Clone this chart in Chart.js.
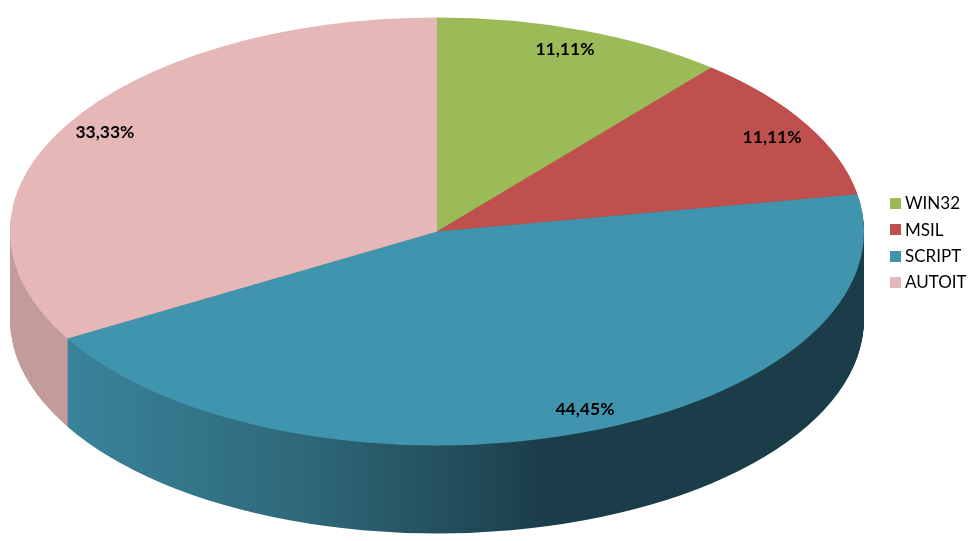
<!DOCTYPE html>
<html>
<head>
<meta charset="utf-8">
<title>Pie chart</title>
<script src="https://cdn.jsdelivr.net/npm/chart.js@4"></script>
<style>
  html, body { margin: 0; padding: 0; background: #fff; }
  canvas { display: block; }
</style>
</head>
<body>
<canvas id="pieChart" width="973" height="541"></canvas>
<script>
// Datos
const categories = ['WIN32', 'MSIL', 'SCRIPT', 'AUTOIT'];
const shares = [11.11, 11.11, 44.45, 33.33];
const shareLabels = ['11,11%', '11,11%', '44,45%', '33,33%'];

// Colores
const topColors = ['#9BBB59', '#C0504D', '#4094AE', '#E5B7B7'];
const sideColors = ['#7C9647', '#9A403E', null, '#C49C9C'];

// Aspecto de la perspectiva
const pieCenterY = 231.5;
const squash = 214 / 427;
const depth = 88;
// la porcion de atras primero, la azul tapa a las demas
const sideOrder = [0, 1, 3, 2];
const labelRadius = 0.89;
const labelNudge = [[-2, -3], [6, 1], [18, -1], [-3, -4]];

function blueSide(ctx) {
    const g = ctx.createLinearGradient(67, 0, 550, 0);
    g.addColorStop(0, '#39839B');
    g.addColorStop(0.5, '#2E6878');
    g.addColorStop(1, '#1B3C49');
    return g;
}

// Aplasta el pastel y dibuja el lateral con los mismos arcos del grafico
const perspective = {
    id: 'perspective',
    beforeDatasetsDraw(chart) {
        const ctx = chart.ctx;
        const arcs = chart.getDatasetMeta(0).data;
        const cx = arcs[0].x, cy = arcs[0].y;

        sideOrder.forEach(i => {
            const arc = arcs[i];
            const topFill = arc.options.backgroundColor;
            arc.options.backgroundColor = sideColors[i] || blueSide(ctx);
            for (let d = depth; d > 0; d--) {
                ctx.save();
                ctx.translate(cx, pieCenterY + d);
                ctx.scale(1, squash);
                ctx.translate(-cx, -cy);
                arc.draw(ctx);
                ctx.restore();
            }
            arc.options.backgroundColor = topFill;
        });

        ctx.save();
        ctx.translate(cx, pieCenterY);
        ctx.scale(1, squash);
        ctx.translate(-cx, -cy);
    },
    afterDatasetsDraw(chart) {
        chart.ctx.restore();
    }
};

// Etiquetas de porcentaje y leyenda
const annotations = {
    id: 'annotations',
    afterDraw(chart) {
        const ctx = chart.ctx;
        const arcs = chart.getDatasetMeta(0).data;

        ctx.save();
        ctx.fillStyle = '#000';
        ctx.font = 'bold 17.5px Lato';
        ctx.textAlign = 'center';
        ctx.textBaseline = 'middle';
        arcs.forEach((arc, i) => {
            const mid = (arc.startAngle + arc.endAngle) / 2;
            const r = arc.outerRadius * labelRadius;
            const x = arc.x + Math.cos(mid) * r + labelNudge[i][0];
            const y = pieCenterY + Math.sin(mid) * r * squash + labelNudge[i][1];
            ctx.fillText(shareLabels[i], x, y);
        });

        ctx.font = '17px Lato';
        ctx.textAlign = 'left';
        categories.forEach((name, i) => {
            const y = 204 + i * 26.3;
            ctx.fillStyle = topColors[i];
            ctx.fillRect(890, Math.round(y) - 6, 11, 11);
            ctx.fillStyle = '#000';
            ctx.fillText(name, 905, y);
        });
        ctx.restore();
    }
};

new Chart(document.getElementById('pieChart').getContext('2d'), {
    type: 'pie',
    data: {
        labels: categories,
        datasets: [{
            data: shares,
            backgroundColor: topColors,
            borderWidth: 0,
            clip: false
        }]
    },
    options: {
        responsive: false,
        animation: false,
        events: [],
        radius: 427,
        layout: { padding: { right: 99 } },
        plugins: {
            legend: { display: false },
            tooltip: { enabled: false }
        }
    },
    plugins: [perspective, annotations]
});
</script>
</body>
</html>
